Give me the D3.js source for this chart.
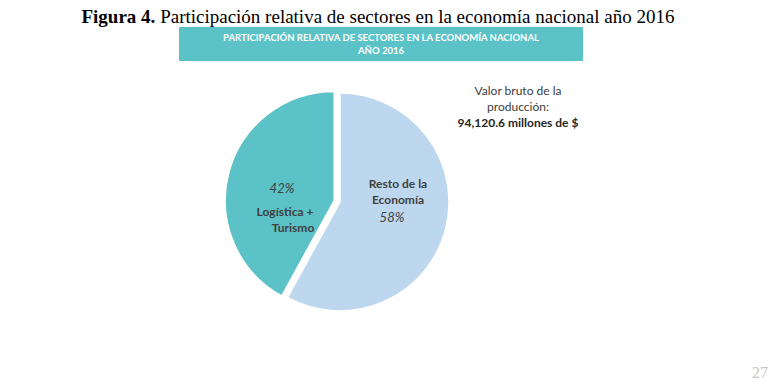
<!DOCTYPE html>
<html><head><meta charset="utf-8">
<script src="https://cdn.jsdelivr.net/npm/d3@7"></script>
<style>body{margin:0;background:#fff}svg{display:block}</style>
</head><body>
<svg id="c" width="770" height="390"></svg>
<script>
const categories = ["Resto de la Economía", "Logística + Turismo"];
const labelLines = [["Resto de la", "Economía"], ["Logística +", "Turismo"]];
const values = [58, 42];
const pctLabels = ["58%", "42%"];
const colors = ["#BDD7EE", "#5BC2C7"];
const headerLines = ["PARTICIPACIÓN RELATIVA DE SECTORES EN LA ECONOMÍA NACIONAL", "AÑO 2016"];
const noteLines = ["Valor bruto de la", "producción:", "94,120.6 millones de $"];

const svg = d3.select("#c");
const font = "Lato, 'Open Sans', sans-serif";

// Title
const t = svg.append("text").attr("x", 378).attr("y", 23).attr("text-anchor", "middle")
  .attr("font-family", "'Liberation Serif', 'Times New Roman', serif").attr("font-size", 19).attr("fill", "#000");
t.append("tspan").attr("font-weight", "bold").text("Figura 4.");
t.append("tspan").text(" Participación relativa de sectores en la economía nacional año 2016");

// Header box
svg.append("rect").attr("x", 179).attr("y", 27).attr("width", 404).attr("height", 34).attr("fill", "#5BC2C7");
headerLines.forEach((l, i) => svg.append("text").attr("x", 381).attr("y", 41 + i * 13)
  .attr("text-anchor", "middle").attr("font-family", font).attr("font-weight", "bold")
  .attr("font-size", 9.5).attr("fill", "#fff").text(l));

// Pie
const cx = 340, cy = 202, r = 109, explode = 6;
const pie = d3.pie().sort(null).value(d => d)(values);
const arc = d3.arc().innerRadius(0).outerRadius(r);
const g = svg.append("g").attr("transform", `translate(${cx},${cy})`);
pie.forEach((p, i) => {
  const mid = (p.startAngle + p.endAngle) / 2;
  const off = i === 1 ? explode : 0;
  const dx = Math.sin(mid) * off, dy = -Math.cos(mid) * off;
  g.append("path").attr("d", arc(p)).attr("fill", colors[i])
    .attr("stroke", "#fff").attr("stroke-width", 1.5)
    .attr("transform", `translate(${dx},${dy})`);
});

// Labels
function lbl(x, y, txt, opts = {}) {
  svg.append("text").attr("x", x).attr("y", y).attr("text-anchor", "middle")
    .attr("font-family", font).attr("font-size", opts.size || 12)
    .attr("font-weight", opts.weight || "bold").attr("font-style", opts.style || "normal")
    .attr("fill", opts.fill || "#404040").text(txt);
}
lbl(398, 188, labelLines[0][0]);
lbl(398, 204, labelLines[0][1]);
lbl(392, 222, pctLabels[0], {weight: "normal", style: "italic", size: 13});
lbl(282, 193, pctLabels[1], {weight: "normal", style: "italic", size: 13});
lbl(285, 216, labelLines[1][0]);
lbl(293, 232, labelLines[1][1]);

// Note
lbl(518, 95, noteLines[0], {weight: "normal", fill: "#404040"});
lbl(518, 111, noteLines[1], {weight: "normal", fill: "#404040"});
lbl(518, 127, noteLines[2], {weight: "bold", fill: "#262626"});

// Page number
svg.append("text").attr("x", 752).attr("y", 378).attr("font-family", "'Liberation Serif', serif")
  .attr("font-size", 16).attr("fill", "#c8c8c8").text("27");
</script>
</body></html>
